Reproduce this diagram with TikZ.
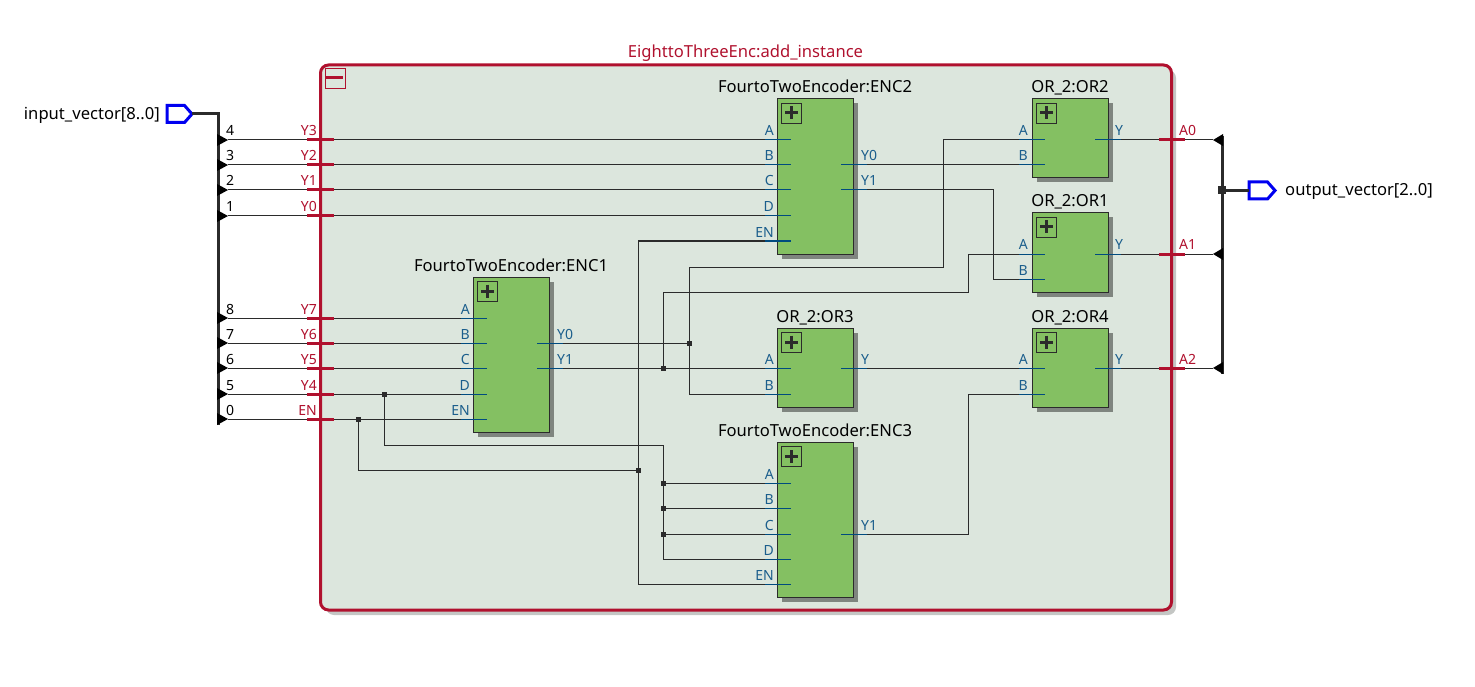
\documentclass[tikz,border=0pt]{standalone}
\usepackage{fontspec}
\setmainfont{Noto Sans}
\pgfdeclarelayer{top}
\pgfsetlayers{main,top}
\definecolor{wirec}{HTML}{2B2B2B}
\definecolor{crim}{HTML}{B0112E}
\definecolor{panel}{HTML}{DCE6DD}
\definecolor{panelsh}{HTML}{C4C6C4}
\definecolor{blockc}{HTML}{84C062}
\definecolor{blocksh}{HTML}{7F857F}
\definecolor{stubc}{HTML}{004B7F}
\definecolor{portt}{HTML}{1B5E8C}
\definecolor{pinc}{HTML}{0000F0}
\tikzset{
  wire/.style={draw=wirec,line width=1pt},
  bus/.style={draw=wirec,line width=3pt},
  stubline/.style={draw=stubc,line width=1pt},
  redstub/.style={draw=crim,line width=3pt},
  blockbox/.style={draw=wirec,fill=blockc,line width=1pt,inner sep=0pt,outer sep=0pt},
  blockshadow/.style={fill=blocksh,draw=none,inner sep=0pt,outer sep=0pt},
  plusbox/.style={draw=wirec,line width=0.9pt,fill=blockc},
  plusmark/.style={draw=wirec,line width=3pt},
  titletext/.style={font=\fontsize{16.6}{19}\selectfont,text=black,anchor=base,inner sep=0pt},
  porttext/.style={font=\fontsize{14}{16}\selectfont,text=portt,inner sep=0pt},
  redtext/.style={font=\fontsize{14}{16}\selectfont,text=crim,inner sep=0pt},
  numtext/.style={font=\fontsize{14}{16}\selectfont,text=black,inner sep=0pt,anchor=base west},
  pintext/.style={font=\fontsize{16.6}{19}\selectfont,text=black,inner sep=0pt},
  junction/.style={fill=wirec,draw=none,minimum size=5pt,inner sep=0pt,outer sep=0pt},
  pinshape/.style={draw=pinc,line width=3pt,miter limit=10},
  arrowtri/.style={fill=black,draw=none},
}
% name, x1, y1, x2, y2, title
\newcommand{\blk}[6]{%
  \path[blockshadow] (#2+4,#3+4.5) rectangle (#4+4,#5+4.5);
  \node[blockbox,minimum width={(#4-#2)*1pt},minimum height={(#5-#3)*1pt}] (#1) at ({(#2+#4)/2-0.5},{(#3+#5)/2}) {};
  \node[titletext] (#1-title) at ({(#2+#4)/2-1},#3-6) {#6};
  \path[plusbox] (#2+3.5,#3+4) rectangle (#2+23.5,#3+24);
  \draw[plusmark] (#2+7,#3+14) -- (#2+20,#3+14) (#2+13.5,#3+7.5) -- (#2+13.5,#3+20.5);
}
% input port: name, x of block left, y, label  (stub runs x-13 .. x+13)
\newcommand{\inp}[4]{%
  \coordinate (#1) at (#2-13,#3);
  \begin{pgfonlayer}{top}\draw[stubline] (#1) -- ++(26,0);\end{pgfonlayer}
  \node[porttext,anchor=base east] (#1-l) at (#2-4,#3-4) {#4};
}
% output port: name, x of block right, y, label
\newcommand{\outp}[4]{%
  \coordinate (#1) at (#2+13,#3);
  \begin{pgfonlayer}{top}\draw[stubline] (#1) -- ++(-26,0);\end{pgfonlayer}
  \node[porttext,anchor=base west] (#1-l) at (#2+7,#3-4) {#4};
}
\newcommand{\modin}[3]{%
  \coordinate (#1) at (321,#2);
  \begin{pgfonlayer}{top}\draw[redstub] (307,#2) -- (334,#2);\end{pgfonlayer}
  \node[redtext,anchor=base east] (#1-l) at (317,#2-4) {#3};
}
\newcommand{\modout}[3]{%
  \coordinate (#1) at (1172,#2);
  \begin{pgfonlayer}{top}\draw[redstub] (1159,#2) -- (1185,#2);\end{pgfonlayer}
  \node[redtext,anchor=base west] (#1-l) at (1179,#2-4) {#3};
}
% left bus branch: name, y, number
\newcommand{\brL}[3]{%
  \coordinate (#1) at (228,#2);
  \path[arrowtri] (217,#2-6) -- (228,#2) -- (217,#2+6) -- cycle;
  \node[numtext] (#1-l) at (226,#2-4) {#3};
}
\newcommand{\brR}[2]{%
  \coordinate (#1) at (1213,#2);
  \path[arrowtri] (1223,#2-6) -- (1213,#2) -- (1223,#2+6) -- cycle;
}
\begin{document}
\begin{tikzpicture}[x=1pt,y=-1pt]
\useasboundingbox (0,0) rectangle (1475,687);
% module frame
\path[fill=panelsh,rounded corners=8pt] (326,70) rectangle (1176,615);
\path[fill=panel,draw=crim,line width=3pt,rounded corners=8pt] (320.5,65) rectangle (1171.5,610);
\node[titletext,text=crim] (modtitle) at (745.5,58) {EighttoThreeEnc:add\_instance};
\draw[crim,line width=1pt] (325,68.5) rectangle (345,88.5);
\draw[crim,line width=3pt] (326,78) -- (343,78);
% blocks
\blk{ENCtwo}{778}{99}{854}{254}{FourtoTwoEncoder:ENC2}
\blk{ENCone}{474}{277}{550}{432}{FourtoTwoEncoder:ENC1}
\blk{ENCthree}{778}{442.5}{854}{597}{FourtoTwoEncoder:ENC3}
\blk{ORtwo}{1033}{99}{1109}{178}{OR\_2:OR2}
\blk{ORone}{1033}{213}{1109}{292}{OR\_2:OR1}
\blk{ORthree}{778}{328}{854}{407}{OR\_2:OR3}
\blk{ORfour}{1033}{328}{1109}{407}{OR\_2:OR4}
% ports
\inp{e2A}{778}{140}{A}\inp{e2B}{778}{165}{B}\inp{e2C}{778}{190}{C}\inp{e2D}{778}{216}{D}\inp{e2E}{778}{241}{EN}
\outp{e2Yz}{854}{165}{Y0}\outp{e2Yo}{854}{190}{Y1}
\inp{e1A}{474}{318}{A}\inp{e1B}{474}{343}{B}\inp{e1C}{474}{368}{C}\inp{e1D}{474}{394}{D}\inp{e1E}{474}{419}{EN}
\outp{e1Yz}{550}{343}{Y0}\outp{e1Yo}{550}{368}{Y1}
\inp{e3A}{778}{483}{A}\inp{e3B}{778}{508}{B}\inp{e3C}{778}{534}{C}\inp{e3D}{778}{559}{D}\inp{e3E}{778}{584}{EN}
\outp{e3Yo}{854}{534}{Y1}
\inp{o2A}{1032}{140}{A}\inp{o2B}{1032}{165}{B}\outp{o2Y}{1108}{140}{Y}
\inp{o1A}{1032}{254}{A}\inp{o1B}{1032}{279}{B}\outp{o1Y}{1108}{254}{Y}
\inp{o3A}{778}{368}{A}\inp{o3B}{778}{394}{B}\outp{o3Y}{854}{368}{Y}
\inp{o4A}{1032}{368}{A}\inp{o4B}{1032}{394}{B}\outp{o4Y}{1108}{368}{Y}
% input pin and bus
\draw[pinshape] (167,105.5) -- (184.5,105.5) -- (192,114) -- (184.5,122.5) -- (167,122.5) -- cycle;
\coordinate (inpin) at (192,114);
\node[pintext,anchor=base east] (inlabel) at (160,120) {input\_vector[8..0]};
\coordinate (inbusend) at (218,425);
\draw[bus] (inpin) -| (inbusend);
\brL{bFour}{140}{4}\brL{bThree}{165}{3}\brL{bTwo}{190}{2}\brL{bOne}{216}{1}
\brL{bEight}{318}{8}\brL{bSeven}{343}{7}\brL{bSix}{368}{6}\brL{bFive}{394}{5}\brL{bZero}{419}{0}
% output pin and bus
\draw[pinshape] (1249,182) -- (1267.5,182) -- (1275,190.5) -- (1267.5,199) -- (1249,199) -- cycle;
\coordinate (outpin) at (1249,190.5);
\node[pintext,anchor=base west] (outlabel) at (1285,196) {output\_vector[2..0]};
\coordinate (obTop) at (1222,136);
\coordinate (obBot) at (1222,374);
\draw[bus] (obTop) -- (obBot);
\node[junction,minimum size=8pt] (obJ) at (1222,190.5) {};
\draw[bus] (obJ) -- (outpin);
\brR{rZero}{140}\brR{rOne}{254}\brR{rTwo}{368}
% module ports
\modin{mYthree}{140}{Y3}\modin{mYtwo}{165}{Y2}\modin{mYone}{190}{Y1}\modin{mYzero}{216}{Y0}
\modin{mYseven}{318}{Y7}\modin{mYsix}{343}{Y6}\modin{mYfive}{368}{Y5}\modin{mYfour}{394}{Y4}\modin{mEN}{419}{EN}
\modout{mAzero}{140}{A0}\modout{mAone}{254}{A1}\modout{mAtwo}{368}{A2}
% junctions
\node[junction] (jA) at (384,394) {};
\node[junction] (jB) at (358,419) {};
\node[junction] (jC) at (689,343) {};
\node[junction] (jD) at (663,368) {};
\node[junction] (jE) at (638,470) {};
\node[junction] (jF) at (663,483) {};
\node[junction] (jG) at (663,508) {};
\node[junction] (jH) at (663,534) {};
% corner coordinates
\coordinate (cA) at (943,267);
\coordinate (cB) at (968,292);
\coordinate (cC) at (993,190);
\coordinate (cD) at (968,534);
\coordinate (cE) at (663,445);
\coordinate (cF) at (638,241);
% wires
\draw[wire] (bFour) -- (e2A);
\draw[wire] (bThree) -- (e2B);
\draw[wire] (bTwo) -- (e2C);
\draw[wire] (bOne) -- (e2D);
\draw[wire] (bEight) -- (e1A);
\draw[wire] (bSeven) -- (e1B);
\draw[wire] (bSix) -- (e1C);
\draw[wire] (bFive) -- (e1D);
\draw[wire] (bZero) -- (e1E);
\draw[wire] (e1Yz) -- (jC);
\draw[wire] (jC) |- (cA) |- (o2A);
\draw[wire] (jC) |- (o3B);
\draw[wire] (e1Yo) -- (o3A);
\draw[wire] (jD) |- (cB) |- (o1A);
\draw[wire] (e2Yz) -- (o2B);
\draw[wire] (e2Yo) -| (cC) |- (o1B);
\draw[wire] (o3Y) -- (o4A);
\draw[wire] (e3Yo) -| (cD) |- (o4B);
\draw[wire] (o2Y) -- (rZero);
\draw[wire] (o1Y) -- (rOne);
\draw[wire] (o4Y) -- (rTwo);
\draw[wire] (jA) |- (cE) |- (e3D);
\draw[wire] (jF) -- (e3A);
\draw[wire] (jG) -- (e3B);
\draw[wire] (jH) -- (e3C);
\draw[wire] (jB) |- (jE);
\draw[wire] (e2E) -| (cF) |- (e3E);
\end{tikzpicture}
\end{document}
